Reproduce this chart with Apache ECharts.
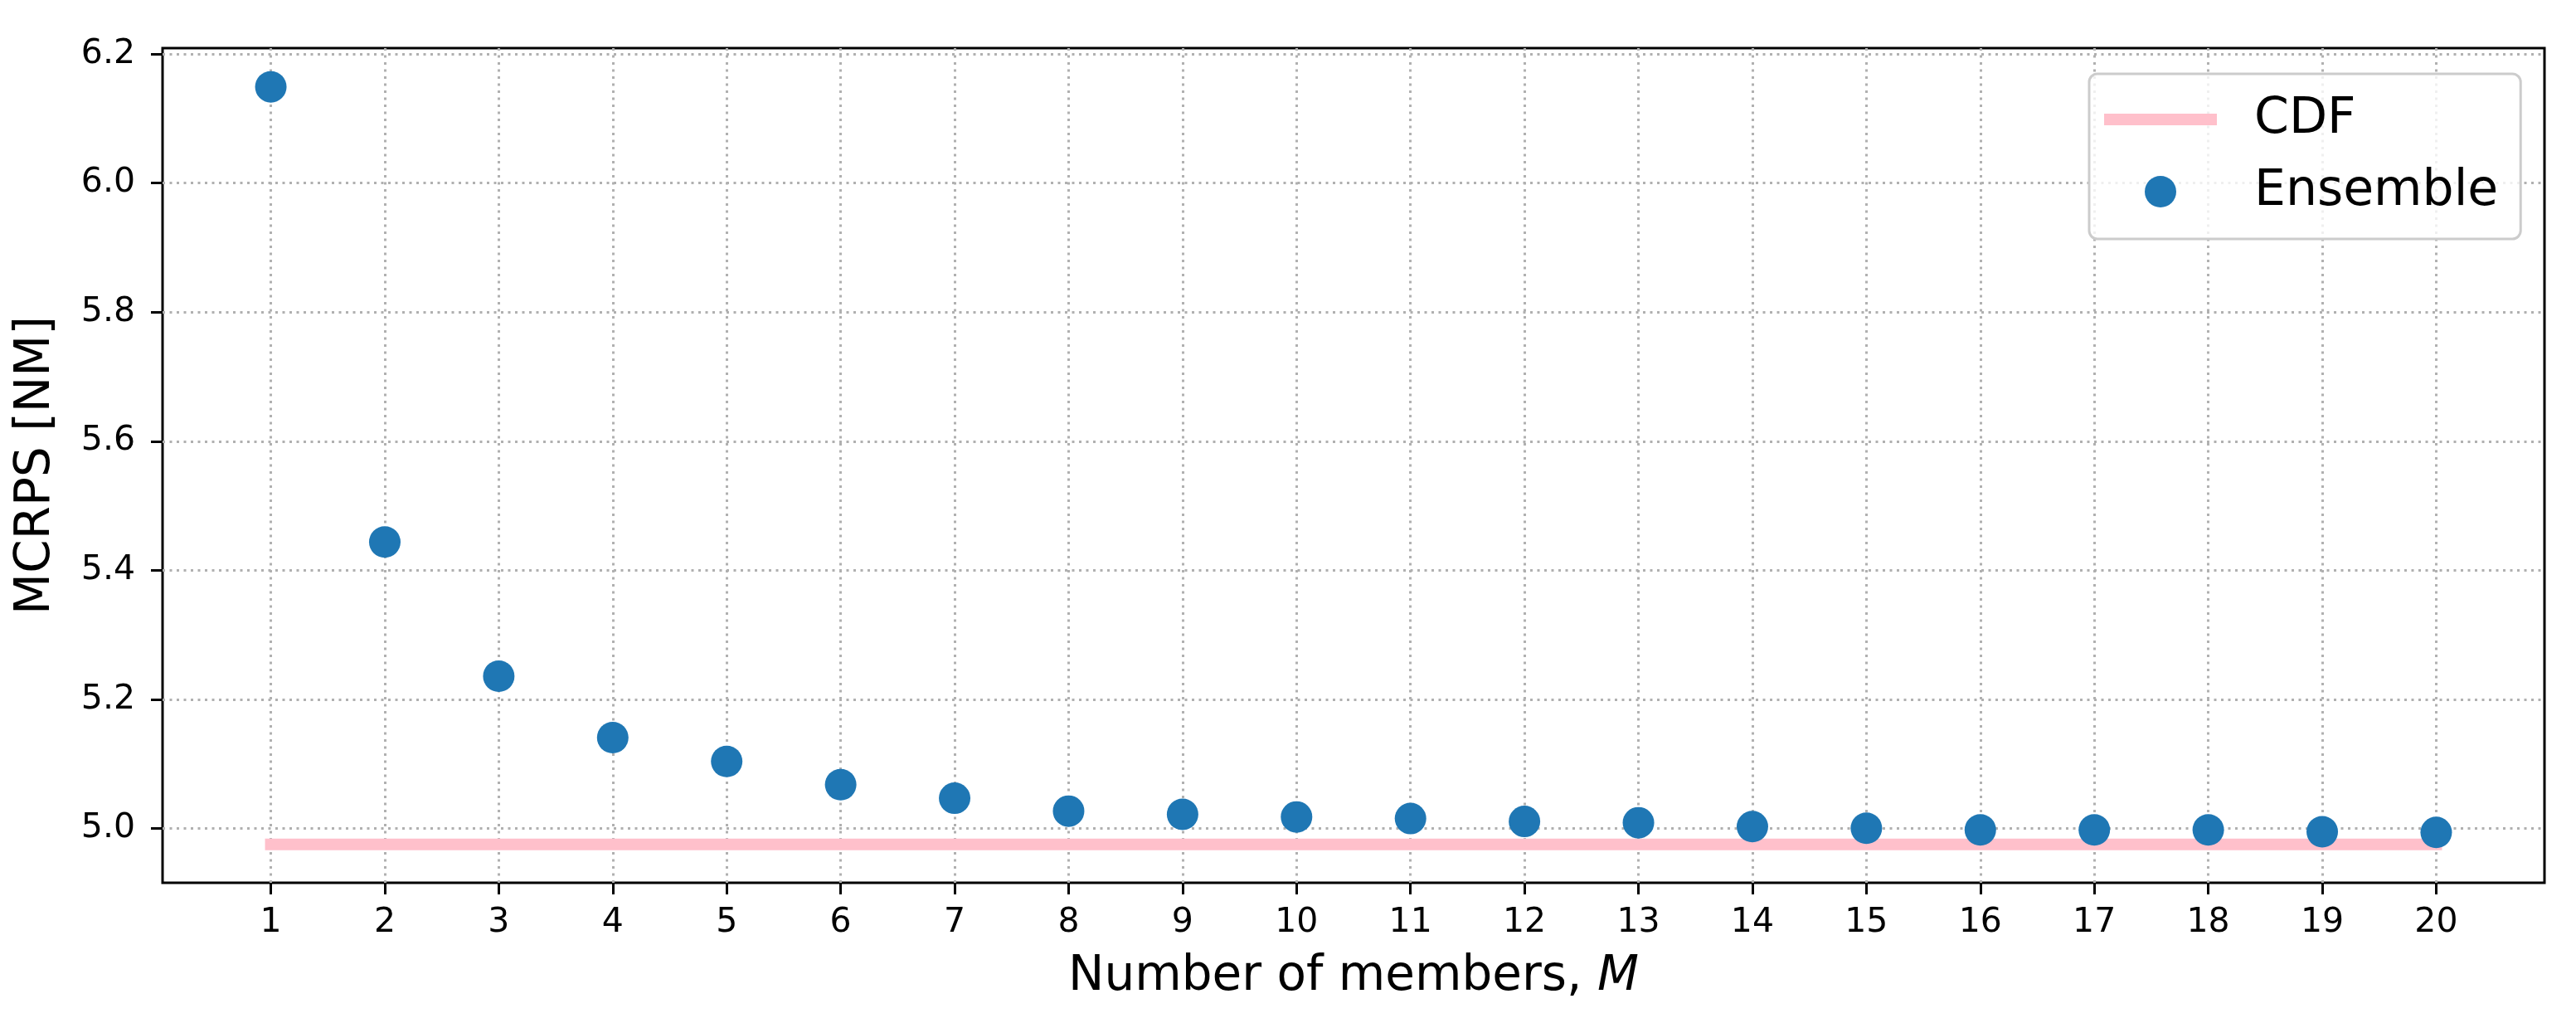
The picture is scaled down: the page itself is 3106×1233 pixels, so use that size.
<!DOCTYPE html>
<html>
<head>
<meta charset="utf-8">
<script src="https://cdn.jsdelivr.net/npm/echarts@6/dist/echarts.min.js"></script>
<style>
  html, body { margin: 0; padding: 0; background: #fff; }
  #chart { width: 3106px; height: 1233px; }
</style>
</head>
<body>
<div id="chart"></div>
<script>
  // number of ensemble members, M
  const members = [1, 2, 3, 4, 5, 6, 7, 8, 9, 10, 11, 12, 13, 14, 15, 16, 17, 18, 19, 20]
  // MCRPS of the ensemble forecast [NM]
  const ensembleMcrps = [6.149, 5.444, 5.236, 5.141, 5.104, 5.068, 5.047, 5.027, 5.022, 5.018,
    5.0155, 5.011, 5.009, 5.003, 5.0005, 4.998, 4.998, 4.998, 4.995, 4.994]
  // MCRPS of the CDF forecast, drawn from first to last member
  const cdfX = [1, 20]
  const cdfMcrps = [4.9755, 4.9755]
  const xTicks = members
  const yTicks = [5.0, 5.2, 5.4, 5.6, 5.8, 6.0, 6.2]

  const font = 'DejaVu Sans'
  // thick bar in the middle of a 136x38 legend box (tiny corner specks keep the box size)
  const barIcon = 'path://M0,0L0.01,0L0,0.01Z M0,12L136,12L136,26L0,26Z M136,38L135.99,38L136,37.99Z'

  const chart = echarts.init(document.getElementById('chart'), null, { renderer: 'canvas' })

  chart.setOption({
    animation: false,
    backgroundColor: '#fff',
    grid: {
      left: 196,
      right: 38,
      top: 58,
      bottom: 169,
      show: true,
      borderColor: '#000',
      borderWidth: 3,
      backgroundColor: 'transparent'
    },
    legend: {
      orient: 'vertical',
      left: 2519,
      top: 89,
      padding: [25, 27, 27, 18],
      itemWidth: 136,
      itemHeight: 38,
      itemGap: 27,
      backgroundColor: 'rgba(255,255,255,0.8)',
      borderColor: '#cccccc',
      borderWidth: 3,
      borderRadius: 10,
      textStyle: {
        fontFamily: font,
        fontSize: 60,
        color: '#000',
        padding: [0, 0, 0, 40]
      },
      data: [
        { name: 'CDF', icon: barIcon, itemStyle: { color: 'pink' } },
        { name: 'Ensemble', icon: 'circle' }
      ]
    },
    xAxis: {
      type: 'value',
      min: 0.05,
      max: 20.95,
      name: 'Number of members, {i|M}',
      nameLocation: 'middle',
      nameGap: 85,
      nameTextStyle: {
        fontFamily: font,
        fontSize: 58,
        color: '#000',
        rich: {
          i: { fontFamily: font, fontSize: 58, fontStyle: 'italic', color: '#000' }
        }
      },
      axisLine: { show: false },
      axisTick: {
        show: true,
        length: 14,
        lineStyle: { color: '#000', width: 3 },
        customValues: xTicks
      },
      axisLabel: {
        fontFamily: font,
        fontSize: 41,
        color: '#000',
        margin: 28,
        customValues: xTicks
      },
      splitLine: {
        show: true,
        lineStyle: { color: '#b0b0b0', width: 3, type: [3, 5.5] }
      }
    },
    yAxis: {
      type: 'value',
      min: 4.916,
      max: 6.209,
      name: 'MCRPS [NM]',
      nameLocation: 'middle',
      nameGap: 123,
      nameTextStyle: { fontFamily: font, fontSize: 58, color: '#000' },
      axisLine: { show: false },
      axisTick: {
        show: true,
        length: 14,
        lineStyle: { color: '#000', width: 3 },
        customValues: yTicks
      },
      axisLabel: {
        fontFamily: font,
        fontSize: 41,
        color: '#000',
        margin: 33,
        customValues: yTicks,
        formatter: v => v.toFixed(1)
      },
      splitLine: {
        show: true,
        lineStyle: { color: '#b0b0b0', width: 3, type: [3, 5.5] }
      }
    },
    series: [
      {
        name: 'CDF',
        type: 'line',
        data: cdfX.map((x, i) => [x, cdfMcrps[i]]),
        symbol: 'none',
        lineStyle: { color: 'pink', width: 14, cap: 'square' },
        itemStyle: { color: 'pink' },
        z: 2
      },
      {
        name: 'Ensemble',
        type: 'scatter',
        data: members.map((m, i) => [m, ensembleMcrps[i]]),
        symbol: 'circle',
        symbolSize: 38,
        itemStyle: { color: '#1f77b4', opacity: 1 },
        z: 3
      }
    ]
  })
</script>
</body>
</html>
